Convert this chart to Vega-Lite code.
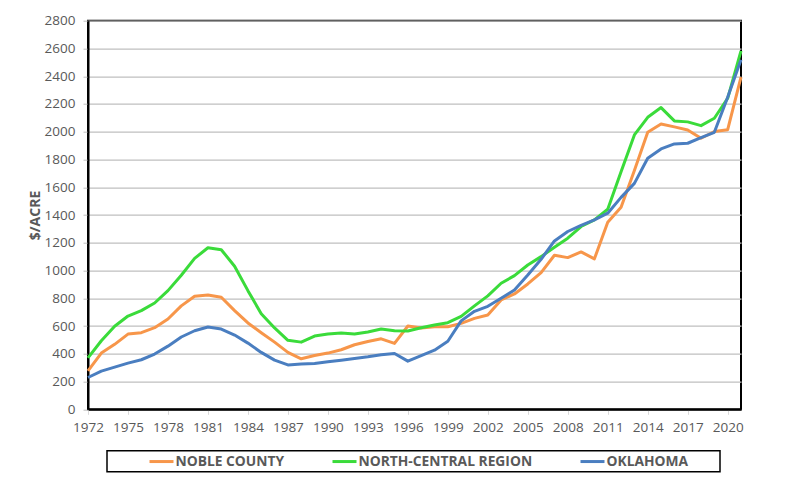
{
  "$schema": "https://vega.github.io/schema/vega-lite/v6.json",
  "width": 653,
  "height": 388.6,
  "autosize": {"type": "none"},
  "padding": {"left": 88, "top": 20.7, "right": 45, "bottom": 85.7},
  "background": "white",
  "config": {"view": {"stroke": "black", "strokeWidth": 2}, "font": "Open Sans"},
  "data": {"values": [
    {"year":1972,"series":"NOBLE COUNTY","value":277},{"year":1972,"series":"NORTH-CENTRAL REGION","value":370},{"year":1972,"series":"OKLAHOMA","value":229},
    {"year":1973,"series":"NOBLE COUNTY","value":405},{"year":1973,"series":"NORTH-CENTRAL REGION","value":494},{"year":1973,"series":"OKLAHOMA","value":275},
    {"year":1974,"series":"NOBLE COUNTY","value":468},{"year":1974,"series":"NORTH-CENTRAL REGION","value":598},{"year":1974,"series":"OKLAHOMA","value":304},
    {"year":1975,"series":"NOBLE COUNTY","value":542},{"year":1975,"series":"NORTH-CENTRAL REGION","value":672},{"year":1975,"series":"OKLAHOMA","value":333},
    {"year":1976,"series":"NOBLE COUNTY","value":552},{"year":1976,"series":"NORTH-CENTRAL REGION","value":711},{"year":1976,"series":"OKLAHOMA","value":357},
    {"year":1977,"series":"NOBLE COUNTY","value":588},{"year":1977,"series":"NORTH-CENTRAL REGION","value":766},{"year":1977,"series":"OKLAHOMA","value":398},
    {"year":1978,"series":"NOBLE COUNTY","value":651},{"year":1978,"series":"NORTH-CENTRAL REGION","value":855},{"year":1978,"series":"OKLAHOMA","value":455},
    {"year":1979,"series":"NOBLE COUNTY","value":745},{"year":1979,"series":"NORTH-CENTRAL REGION","value":966},{"year":1979,"series":"OKLAHOMA","value":521},
    {"year":1980,"series":"NOBLE COUNTY","value":815},{"year":1980,"series":"NORTH-CENTRAL REGION","value":1087},{"year":1980,"series":"OKLAHOMA","value":566},
    {"year":1981,"series":"NOBLE COUNTY","value":824},{"year":1981,"series":"NORTH-CENTRAL REGION","value":1164},{"year":1981,"series":"OKLAHOMA","value":593},
    {"year":1982,"series":"NOBLE COUNTY","value":807},{"year":1982,"series":"NORTH-CENTRAL REGION","value":1150},{"year":1982,"series":"OKLAHOMA","value":578},
    {"year":1983,"series":"NOBLE COUNTY","value":711},{"year":1983,"series":"NORTH-CENTRAL REGION","value":1031},{"year":1983,"series":"OKLAHOMA","value":535},
    {"year":1984,"series":"NOBLE COUNTY","value":622},{"year":1984,"series":"NORTH-CENTRAL REGION","value":855},{"year":1984,"series":"OKLAHOMA","value":477},
    {"year":1985,"series":"NOBLE COUNTY","value":552},{"year":1985,"series":"NORTH-CENTRAL REGION","value":689},{"year":1985,"series":"OKLAHOMA","value":410},
    {"year":1986,"series":"NOBLE COUNTY","value":484},{"year":1986,"series":"NORTH-CENTRAL REGION","value":586},{"year":1986,"series":"OKLAHOMA","value":354},
    {"year":1987,"series":"NOBLE COUNTY","value":410},{"year":1987,"series":"NORTH-CENTRAL REGION","value":497},{"year":1987,"series":"OKLAHOMA","value":320},
    {"year":1988,"series":"NOBLE COUNTY","value":364},{"year":1988,"series":"NORTH-CENTRAL REGION","value":484},{"year":1988,"series":"OKLAHOMA","value":326},
    {"year":1989,"series":"NOBLE COUNTY","value":388},{"year":1989,"series":"NORTH-CENTRAL REGION","value":528},{"year":1989,"series":"OKLAHOMA","value":330},
    {"year":1990,"series":"NOBLE COUNTY","value":405},{"year":1990,"series":"NORTH-CENTRAL REGION","value":542},{"year":1990,"series":"OKLAHOMA","value":342},
    {"year":1991,"series":"NOBLE COUNTY","value":429},{"year":1991,"series":"NORTH-CENTRAL REGION","value":549},{"year":1991,"series":"OKLAHOMA","value":354},
    {"year":1992,"series":"NOBLE COUNTY","value":465},{"year":1992,"series":"NORTH-CENTRAL REGION","value":542},{"year":1992,"series":"OKLAHOMA","value":366},
    {"year":1993,"series":"NOBLE COUNTY","value":489},{"year":1993,"series":"NORTH-CENTRAL REGION","value":557},{"year":1993,"series":"OKLAHOMA","value":378},
    {"year":1994,"series":"NOBLE COUNTY","value":508},{"year":1994,"series":"NORTH-CENTRAL REGION","value":578},{"year":1994,"series":"OKLAHOMA","value":393},
    {"year":1995,"series":"NOBLE COUNTY","value":475},{"year":1995,"series":"NORTH-CENTRAL REGION","value":566},{"year":1995,"series":"OKLAHOMA","value":402},
    {"year":1996,"series":"NOBLE COUNTY","value":600},{"year":1996,"series":"NORTH-CENTRAL REGION","value":564},{"year":1996,"series":"OKLAHOMA","value":347},
    {"year":1997,"series":"NOBLE COUNTY","value":586},{"year":1997,"series":"NORTH-CENTRAL REGION","value":588},{"year":1997,"series":"OKLAHOMA","value":386},
    {"year":1998,"series":"NOBLE COUNTY","value":595},{"year":1998,"series":"NORTH-CENTRAL REGION","value":607},{"year":1998,"series":"OKLAHOMA","value":426},
    {"year":1999,"series":"NOBLE COUNTY","value":595},{"year":1999,"series":"NORTH-CENTRAL REGION","value":624},{"year":1999,"series":"OKLAHOMA","value":490},
    {"year":2000,"series":"NOBLE COUNTY","value":619},{"year":2000,"series":"NORTH-CENTRAL REGION","value":670},{"year":2000,"series":"OKLAHOMA","value":637},
    {"year":2001,"series":"NOBLE COUNTY","value":655},{"year":2001,"series":"NORTH-CENTRAL REGION","value":745},{"year":2001,"series":"OKLAHOMA","value":706},
    {"year":2002,"series":"NOBLE COUNTY","value":680},{"year":2002,"series":"NORTH-CENTRAL REGION","value":817},{"year":2002,"series":"OKLAHOMA","value":742},
    {"year":2003,"series":"NOBLE COUNTY","value":788},{"year":2003,"series":"NORTH-CENTRAL REGION","value":908},{"year":2003,"series":"OKLAHOMA","value":800},
    {"year":2004,"series":"NOBLE COUNTY","value":831},{"year":2004,"series":"NORTH-CENTRAL REGION","value":963},{"year":2004,"series":"OKLAHOMA","value":860},
    {"year":2005,"series":"NOBLE COUNTY","value":903},{"year":2005,"series":"NORTH-CENTRAL REGION","value":1040},{"year":2005,"series":"OKLAHOMA","value":968},
    {"year":2006,"series":"NOBLE COUNTY","value":985},{"year":2006,"series":"NORTH-CENTRAL REGION","value":1100},{"year":2006,"series":"OKLAHOMA","value":1081},
    {"year":2007,"series":"NOBLE COUNTY","value":1110},{"year":2007,"series":"NORTH-CENTRAL REGION","value":1168},{"year":2007,"series":"OKLAHOMA","value":1213},
    {"year":2008,"series":"NOBLE COUNTY","value":1093},{"year":2008,"series":"NORTH-CENTRAL REGION","value":1233},{"year":2008,"series":"OKLAHOMA","value":1281},
    {"year":2009,"series":"NOBLE COUNTY","value":1134},{"year":2009,"series":"NORTH-CENTRAL REGION","value":1317},{"year":2009,"series":"OKLAHOMA","value":1326},
    {"year":2010,"series":"NOBLE COUNTY","value":1084},{"year":2010,"series":"NORTH-CENTRAL REGION","value":1365},{"year":2010,"series":"OKLAHOMA","value":1365},
    {"year":2011,"series":"NOBLE COUNTY","value":1348},{"year":2011,"series":"NORTH-CENTRAL REGION","value":1442},{"year":2011,"series":"OKLAHOMA","value":1413},
    {"year":2012,"series":"NOBLE COUNTY","value":1456},{"year":2012,"series":"NORTH-CENTRAL REGION","value":1712},{"year":2012,"series":"OKLAHOMA","value":1527},
    {"year":2013,"series":"NOBLE COUNTY","value":1720},{"year":2013,"series":"NORTH-CENTRAL REGION","value":1977},{"year":2013,"series":"OKLAHOMA","value":1628},
    {"year":2014,"series":"NOBLE COUNTY","value":1996},{"year":2014,"series":"NORTH-CENTRAL REGION","value":2104},{"year":2014,"series":"OKLAHOMA","value":1809},
    {"year":2015,"series":"NOBLE COUNTY","value":2056},{"year":2015,"series":"NORTH-CENTRAL REGION","value":2174},{"year":2015,"series":"OKLAHOMA","value":1876},
    {"year":2016,"series":"NOBLE COUNTY","value":2035},{"year":2016,"series":"NORTH-CENTRAL REGION","value":2078},{"year":2016,"series":"OKLAHOMA","value":1912},
    {"year":2017,"series":"NOBLE COUNTY","value":2013},{"year":2017,"series":"NORTH-CENTRAL REGION","value":2071},{"year":2017,"series":"OKLAHOMA","value":1917},
    {"year":2018,"series":"NOBLE COUNTY","value":1953},{"year":2018,"series":"NORTH-CENTRAL REGION","value":2044},{"year":2018,"series":"OKLAHOMA","value":1958},
    {"year":2019,"series":"NOBLE COUNTY","value":2001},{"year":2019,"series":"NORTH-CENTRAL REGION","value":2097},{"year":2019,"series":"OKLAHOMA","value":1996},
    {"year":2020,"series":"NOBLE COUNTY","value":2015},{"year":2020,"series":"NORTH-CENTRAL REGION","value":2241},{"year":2020,"series":"OKLAHOMA","value":2249},
    {"year":2021,"series":"NOBLE COUNTY","value":2393},{"year":2021,"series":"NORTH-CENTRAL REGION","value":2583},{"year":2021,"series":"OKLAHOMA","value":2518}
  ]},
  "mark": {"type": "line", "strokeWidth": 3, "strokeJoin": "round"},
  "encoding": {
    "x": {
      "field": "year", "type": "quantitative",
      "scale": {"domain": [1972, 2021], "nice": false, "zero": false},
      "axis": {
        "values": [1972,1975,1978,1981,1984,1987,1990,1993,1996,1999,2002,2005,2008,2011,2014,2017,2020],
        "format": "d", "title": null, "grid": false,
        "domainColor": "black", "domainWidth": 2,
        "tickColor": "#d9d9d9", "tickSize": 5, "tickWidth": 1,
        "labelFontSize": 13.5, "labelColor": "#595959", "labelPadding": 6,
        "labelFlush": false, "labelOverlap": false
      }
    },
    "y": {
      "field": "value", "type": "quantitative",
      "scale": {"domain": [0, 2800], "nice": false},
      "axis": {
        "values": [0,200,400,600,800,1000,1200,1400,1600,1800,2000,2200,2400,2600,2800],
        "format": "d",
        "title": "$/ACRE", "titleFontSize": 14, "titleFontWeight": "bold", "titleColor": "#595959", "titlePadding": 2,
        "grid": true, "gridColor": "#bfbfbf", "gridWidth": 1.2,
        "domainColor": "black", "domainWidth": 2,
        "tickColor": "#bfbfbf", "tickSize": 5,
        "labelFontSize": 13.5, "labelColor": "#595959", "labelPadding": 8,
        "labelFlush": false, "labelOverlap": false
      }
    },
    "color": {
      "field": "series", "type": "nominal",
      "scale": {"domain": ["NOBLE COUNTY", "NORTH-CENTRAL REGION", "OKLAHOMA"], "range": ["#F7964A", "#3ADB3A", "#4A7EC0"]},
      "legend": {
        "orient": "none", "legendX": 19, "legendY": 430, "direction": "horizontal",
        "title": "\u200b\u00a0\u00a0\u00a0\u00a0\u00a0\u00a0\u00a0\u00a0\u00a0\u00a0\u200b", "titleOrient": "left", "titlePadding": 7, "titleFontSize": 14,
        "strokeColor": "black", "padding": 3,
        "symbolType": "M-2,0H2", "symbolSize": 144, "symbolStrokeWidth": 3,
        "labelOffset": 6.5, "columnPadding": 41, "labelLimit": 400,
        "labelFontSize": 13.8, "labelFontWeight": "bold", "labelColor": "#595959",
        "labelExpr": "datum.label == 'OKLAHOMA' ? datum.label + '\u00a0\u00a0\u00a0\u00a0\u00a0\u00a0\u00a0\u00a0\u200b' : datum.label",
        "encode": {"legend": {"update": {"strokeWidth": {"value": 1.5}}}}
      }
    }
  }
}
